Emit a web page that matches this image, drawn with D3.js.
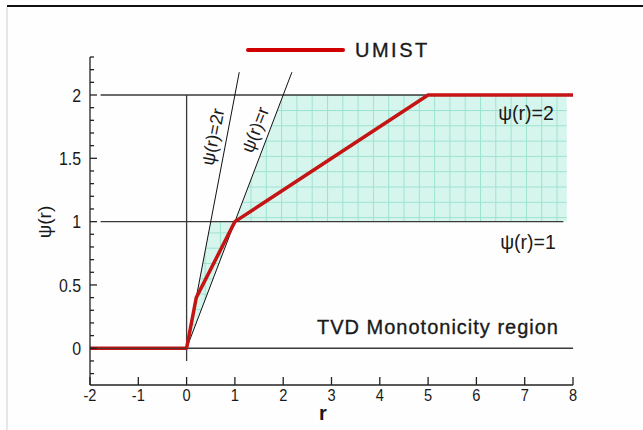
<!DOCTYPE html>
<html>
<head>
<meta charset="utf-8">
<script src="https://cdn.jsdelivr.net/npm/d3@7"></script>
<style>
  html, body { margin: 0; padding: 0; background: #fefefe; }
  svg { display: block; }
  text { font-family: "Liberation Sans", Arial, sans-serif; fill: #1a1a1a; }
  .heavy { stroke: #1a1a1a; stroke-width: 0.35; }
</style>
</head>
<body>
<svg id="chart" width="643" height="430"></svg>
<script>
// UMIST flux limiter: psi(r) = max(0, min(2r, 0.25+0.75r, 0.75+0.25r, 2))
const umistR   = [-2, 0, 0.2, 1, 5, 8];
const umistPsi = [0, 0, 0.4, 1, 2, 2];

// Boundary lines psi = 2r and psi = r, from the origin
const boundR2r = [0, 1.09];
const boundPsi2r = [0, 2.18];
const boundRr = [0, 2.18];
const boundPsiR = [0, 2.18];

// TVD monotonicity region outline (r, psi)
const regionR   = [0, 0.5, 1, 2, 7.87, 7.87, 1];
const regionPsi = [0, 1, 1, 2, 2, 1, 1];

// Reference levels psi = 0, 1, 2 with their r extents
const levelPsi = [0, 1, 2];
const levelFrom = [-2, -1.78, -1.78];
const levelTo = [8, 7.8, 8];

const xTicks = [-2, -1, 0, 1, 2, 3, 4, 5, 6, 7, 8];
const yMajor = [0, 0.5, 1, 1.5, 2];
const yMajorLabels = ["0", "0.5", "1", "1.5", "2"];
const yMinor = [-0.2, -0.1, 0.1, 0.2, 0.3, 0.4, 0.6, 0.7, 0.8, 0.9, 1.1, 1.2, 1.3, 1.4, 1.6, 1.7, 1.8, 1.9, 2.1, 2.2, 2.3];

const svg = d3.select("#chart");
const x = d3.scaleLinear().domain([-2, 8]).range([90, 573]);
const y = d3.scaleLinear().domain([-0.29, 2.3]).range([385, 57]);

// frame
svg.append("line").attr("x1", 7).attr("x2", 643).attr("y1", 6).attr("y2", 6)
  .attr("stroke", "#111").attr("stroke-width", 2);
svg.append("line").attr("x1", 7).attr("x2", 7).attr("y1", 7).attr("y2", 430)
  .attr("stroke", "#d0d0d0").attr("stroke-width", 1);

// hatch pattern for the region
const defs = svg.append("defs");
const pat = defs.append("pattern").attr("id", "tvdgrid")
  .attr("patternUnits", "userSpaceOnUse")
  .attr("x", 5.7).attr("y", 2.9).attr("width", 15.3).attr("height", 15.3);
pat.append("rect").attr("width", 15.3).attr("height", 15.3).attr("fill", "#d6f5ed");
pat.append("line").attr("x1", 0.5).attr("x2", 0.5).attr("y1", 0).attr("y2", 15.3)
  .attr("stroke", "#9ce3d0").attr("stroke-width", 1);
pat.append("line").attr("x1", 0).attr("x2", 15.3).attr("y1", 0.5).attr("y2", 0.5)
  .attr("stroke", "#9ce3d0").attr("stroke-width", 1);

const regionPts = regionR.map((r, i) => [x(r), y(regionPsi[i])]);
svg.append("path")
  .attr("d", d3.line()(regionPts) + "Z")
  .attr("fill", "url(#tvdgrid)").attr("stroke", "none");

// reference levels
levelPsi.forEach((p, i) => {
  svg.append("line")
    .attr("x1", x(levelFrom[i])).attr("x2", x(levelTo[i]))
    .attr("y1", y(p)).attr("y2", y(p))
    .attr("stroke", "#3a3a3a").attr("stroke-width", 1.3);
});
// r = 0 line
svg.append("line").attr("x1", x(0)).attr("x2", x(0)).attr("y1", y(2)).attr("y2", y(-0.1))
  .attr("stroke", "#3a3a3a").attr("stroke-width", 1.3);

// psi = 2r and psi = r
const lineGen = d3.line();
svg.append("path")
  .attr("d", lineGen(boundR2r.map((r, i) => [x(r), y(boundPsi2r[i])])))
  .attr("stroke", "#111").attr("stroke-width", 1).attr("fill", "none");
svg.append("path")
  .attr("d", lineGen(boundRr.map((r, i) => [x(r), y(boundPsiR[i])])))
  .attr("stroke", "#111").attr("stroke-width", 1).attr("fill", "none");

// UMIST curve
svg.append("path")
  .attr("d", lineGen(umistR.map((r, i) => [x(r), y(umistPsi[i])])))
  .attr("stroke", "#c41414").attr("stroke-width", 3.5).attr("fill", "none")
  .attr("stroke-linejoin", "round");
// psi = 0 line drawn over the curve on the left
svg.append("line").attr("x1", x(-2)).attr("x2", x(0)).attr("y1", y(0)).attr("y2", y(0))
  .attr("stroke", "#3a3a3a").attr("stroke-width", 1);

// axes
const yAxis = svg.append("g");
yAxis.append("line").attr("x1", 90).attr("x2", 90).attr("y1", y(2.3)).attr("y2", y(-0.29))
  .attr("stroke", "#222").attr("stroke-width", 1.3);
yMajor.forEach((v, i) => {
  yAxis.append("line").attr("x1", 90).attr("x2", 97).attr("y1", y(v)).attr("y2", y(v))
    .attr("stroke", "#222").attr("stroke-width", 1.3);
  yAxis.append("text").attr("transform", `translate(81,${y(v)}) scale(0.86,1)`).attr("dy", "0.36em")
    .attr("text-anchor", "end").attr("font-size", 18.5).attr("fill", "#2a2a2a").text(yMajorLabels[i]);
});
yMinor.forEach(v => {
  yAxis.append("line").attr("x1", 90).attr("x2", 94).attr("y1", y(v)).attr("y2", y(v))
    .attr("stroke", "#222").attr("stroke-width", 1.3);
});

const xAxis = svg.append("g");
xAxis.append("line").attr("x1", x(-2)).attr("x2", x(8)).attr("y1", 385).attr("y2", 385)
  .attr("stroke", "#222").attr("stroke-width", 1.3);
xTicks.forEach(v => {
  xAxis.append("line").attr("x1", x(v)).attr("x2", x(v)).attr("y1", 385).attr("y2", 377)
    .attr("stroke", "#222").attr("stroke-width", 1.3);
  xAxis.append("text").attr("transform", `translate(${x(v)},401) scale(0.86,1)`)
    .attr("text-anchor", "middle").attr("font-size", 17).attr("fill", "#2a2a2a").text(v);
});

// axis titles
svg.append("text").attr("x", 323).attr("y", 420).attr("text-anchor", "middle")
  .attr("font-size", 20).attr("font-weight", "bold").text("r");
svg.append("text").attr("transform", "translate(51,222) rotate(-90)")
  .attr("text-anchor", "middle").attr("font-size", 19).text("ψ(r)");

// annotations
svg.append("text").attr("x", 526).attr("y", 120).attr("text-anchor", "middle")
  .attr("font-size", 19.5).text("ψ(r)=2");
svg.append("text").attr("x", 528).attr("y", 249).attr("text-anchor", "middle")
  .attr("font-size", 19.5).text("ψ(r)=1");
svg.append("text").attr("class", "heavy").attr("x", 438).attr("y", 334).attr("text-anchor", "middle")
  .attr("font-size", 20).attr("letter-spacing", 1).text("TVD Monotonicity region");
svg.append("text").attr("transform", "translate(219,138) rotate(-79)")
  .attr("text-anchor", "middle").attr("font-size", 18).text("ψ(r)=2r");
svg.append("text").attr("transform", "translate(261,132) rotate(-69)")
  .attr("text-anchor", "middle").attr("font-size", 18).text("ψ(r)=r");

// legend
svg.append("line").attr("x1", 248).attr("x2", 343).attr("y1", 50).attr("y2", 50)
  .attr("stroke", "#d00000").attr("stroke-width", 4).attr("stroke-linecap", "round");
svg.append("text").attr("class", "heavy").attr("x", 355).attr("y", 57).attr("font-size", 20)
  .attr("letter-spacing", 2.5).text("UMIST");
</script>
</body>
</html>
